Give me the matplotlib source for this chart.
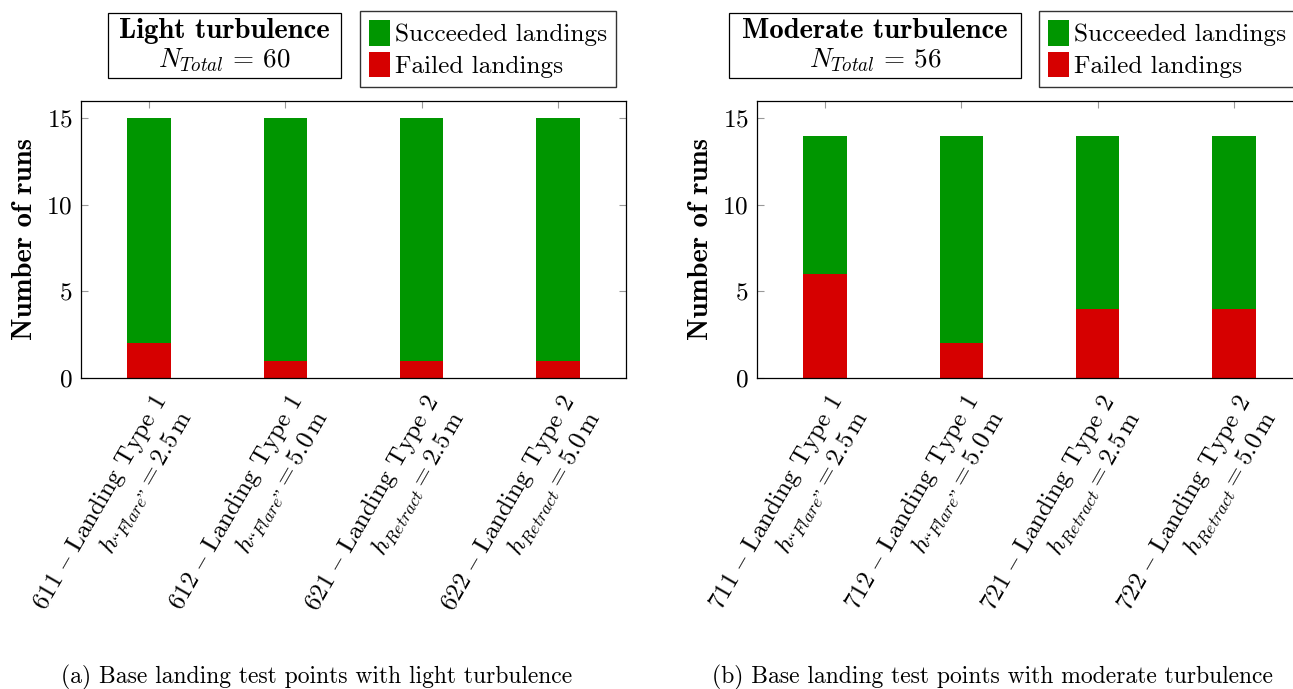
import matplotlib
matplotlib.use("Agg")
import matplotlib.pyplot as plt
from matplotlib.patches import Patch

plt.rcParams['font.family'] = ['cmr10', 'DejaVu Serif']
plt.rcParams['mathtext.fontset'] = 'cm'
plt.rcParams['axes.formatter.use_mathtext'] = True

# ---- data ----
light_ids = ["611", "612", "621", "622"]
moderate_ids = ["711", "712", "721", "722"]
landing_types = ["1", "1", "2", "2"]
height_vars = ["“Flare”", "“Flare”", "Retract", "Retract"]
heights = ["2.5", "5.0", "2.5", "5.0"]

light_failed = [2, 1, 1, 1]
light_succeeded = [13, 14, 14, 14]
moderate_failed = [6, 2, 4, 4]
moderate_succeeded = [8, 12, 10, 10]

titles = ["Light turbulence", "Moderate turbulence"]
totals = [60, 56]
captions = ["(a) Base landing test points with light turbulence",
            "(b) Base landing test points with moderate turbulence"]

GREEN = "#009600"
RED = "#d60000"
FS = 18.2
FS_B = 20.7

fig = plt.figure(figsize=(12.93, 6.89), dpi=100)
W, H = 1293, 689

def fx(px):
    return px / W

def fy(py):
    return 1 - py / H

def make_labels(ids):
    labs = []
    for i, t, hv, h in zip(ids, landing_types, height_vars, heights):
        hv_m = hv.replace(" ", r"\ ")
        labs.append(r"$\mathbf{%s}$ $–$ Landing Type %s" % (i, t) + "\n" +
                    r"$h_{%s} = %s\,\mathrm{m}$" % (hv_m, h))
    return labs

# (axes left px, ids, failed, succeeded, title-box centre, title-box width, legend centre, caption centre)
panels = [
    (81, light_ids, light_failed, light_succeeded, 224.5, 233, 488, 317),
    (757, moderate_ids, moderate_failed, moderate_succeeded, 875, 292, 1167, 992),
]

for k, (left_px, ids, failed, succ, tbx, bw, lgx, capx) in enumerate(panels):
    ax = fig.add_axes([fx(left_px), fy(378), fx(545), 277 / H])
    x = list(range(len(ids)))
    ax.bar(x, failed, width=0.32, color=RED, edgecolor="none", zorder=2)
    ax.bar(x, succ, bottom=failed, width=0.32, color=GREEN, edgecolor="none", zorder=2)
    ax.set_xlim(-0.5, 3.5)
    ax.set_ylim(0, 16)
    ax.set_yticks([0, 5, 10, 15])
    ax.set_xticks(x)
    ax.set_xticklabels(make_labels(ids), rotation=60, ha="right", va="top",
                       rotation_mode="anchor", multialignment="right", fontsize=FS)
    ax.tick_params(axis="x", direction="in", top=True, bottom=False, length=5,
                   color="#999999", pad=9)
    ax.tick_params(axis="y", direction="in", left=True, right=True, length=5,
                   color="#999999", labelsize=FS, pad=6)
    for s in ax.spines.values():
        s.set_linewidth(0.9)
    ax.set_ylabel("Number of runs", fontsize=FS_B, family="cmb10", labelpad=6)

    # title box
    fig.text(fx(tbx), fy(31), titles[k], ha="center", va="center",
             fontsize=FS_B, family="cmb10")
    fig.text(fx(tbx), fy(60), r"$N_{Total} \,=\, %d$" % totals[k], ha="center",
             va="center", fontsize=19.5)
    fig.patches.append(plt.Rectangle((fx(tbx - bw / 2), fy(78)), fx(bw), 65 / H,
                                     transform=fig.transFigure, fill=False,
                                     ec="black", lw=0.9))

    handles = [Patch(facecolor=GREEN, edgecolor="none", label="Succeeded landings"),
               Patch(facecolor=RED, edgecolor="none", label="Failed landings")]
    fig.legend(handles=handles, loc="center", bbox_to_anchor=(fx(lgx), fy(49)),
               fontsize=FS, frameon=True, fancybox=False, edgecolor="black",
               handlelength=0.8, handleheight=1.2, handletextpad=0.2,
               labelspacing=0.2, borderpad=0.35, borderaxespad=0.0)

    fig.text(fx(capx), fy(677), captions[k], ha="center", va="center", fontsize=17)

fig.savefig("out.png", dpi=100)
